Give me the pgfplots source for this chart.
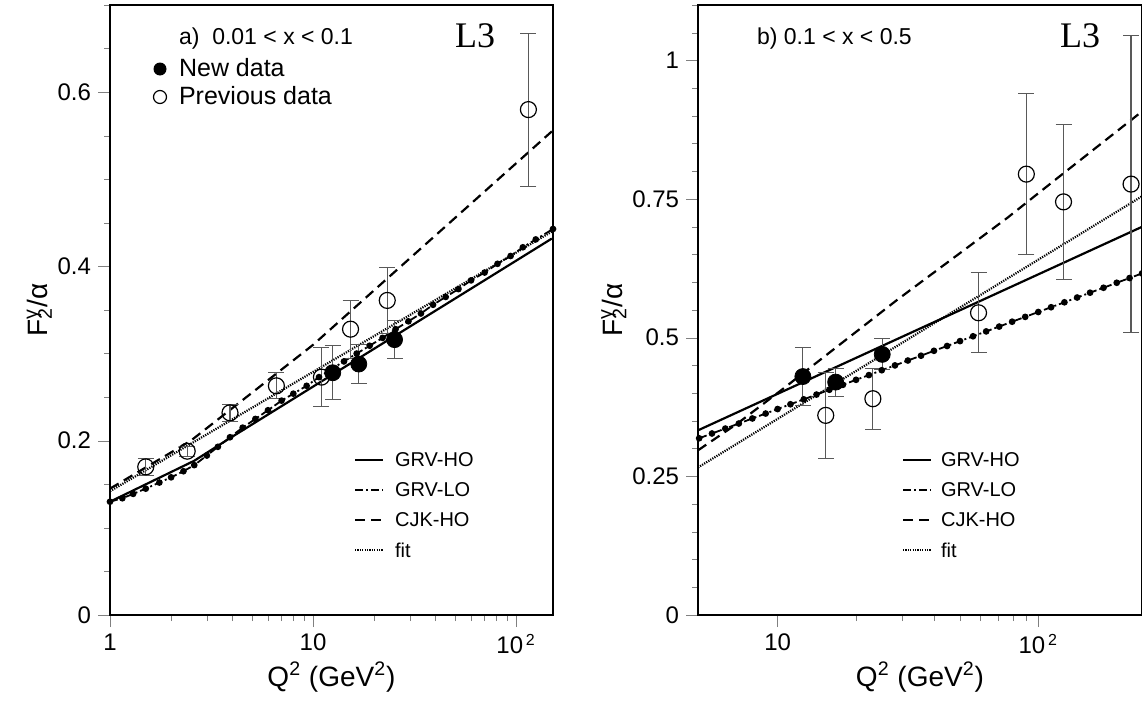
\documentclass[border=0pt]{standalone}
\usepackage{pgfplots}
\pgfplotsset{compat=1.18}
\usepackage{fontspec}
\setmainfont{Liberation Sans}
\newfontfamily\serif{Liberation Serif}
\tikzset{
  ho/.style={black, line width=1.1pt},
  lo/.style={black, line width=0.9pt, dash pattern=on 4pt off 1.5pt on 1pt off 1.5pt},
  cjk/.style={black, line width=1.1pt, dash pattern=on 5pt off 3pt},
  fit/.style={black, line width=1.1pt, dash pattern=on 0.6pt off 0.6pt},
}
\newcommand{\Fga}{F\rlap{\textsuperscript{γ}}\textsubscript{2}/α}
\pgfplotsset{
  every axis/.append style={
    tick align=outside, tick pos=left, axis line style={line width=1.1pt},
    major tick length=6pt, minor tick length=3pt,
    ticklabel style={font=\fontsize{12}{14}\selectfont},
    label style={font=\fontsize{14}{16}\selectfont}},
  ebar/.style={error bars/y dir=both, error bars/y explicit,
    error bars/error bar style={gray!70!black,line width=0.6pt},
    error bars/error mark options={rotate=90,mark size=4pt,gray!70!black}},
}
\begin{document}
\begin{tikzpicture}
\useasboundingbox (0,0) rectangle (571pt,354.5pt);
\begin{axis}[xmode=log, scale only axis, anchor=south west, at={(55pt,47pt)}, width=221.5pt, height=305pt,
  xmin=1, xmax=152, ymin=0, ymax=0.7,
  xtick={1,10,100}, xticklabels={1,10,10\textsuperscript{\,2}},
  ytick={0,0.2,0.4,0.6}, yticklabels={0,0.2,0.4,0.6},
  minor ytick={0.05,0.1,...,0.7},
  xlabel={Q\textsuperscript{2} (GeV\textsuperscript{2})}, ylabel={\Fga},
  ylabel style={yshift=-4pt}, xlabel style={yshift=3pt}]
\addplot[cjk, no marks] coordinates {(1,0.145)(2.5,0.2)(10,0.31)(150,0.555)};
\addplot[fit, no marks] coordinates {(1,0.142)(150,0.44)};
\addplot[lo, mark=*, mark size=1.2pt, mark options={solid}] coordinates {(1,0.13)(1.15,0.134)(1.3,0.139)(1.5,0.145)(1.75,0.152)(2,0.158)(2.3,0.165)(2.6,0.172)(3,0.183)(3.4,0.193)(3.9,0.204)(4.5,0.215)(5.2,0.225)(6,0.235)(7,0.246)(8,0.254)(9.3,0.263)(10.7,0.273)(12.3,0.282)(14.2,0.291)(16.4,0.3)(19,0.309)(22,0.318)(25.5,0.328)(29.5,0.337)(34,0.346)(39,0.356)(45,0.365)(52,0.374)(60,0.384)(70,0.393)(81,0.403)(94,0.412)(108,0.422)(125,0.431)(152,0.443)};
\addplot[ho, no marks] coordinates {(1,0.13)(2.6,0.177)(3.9,0.203)(150,0.432)};
\addplot[ebar, only marks, mark=o, mark size=4pt, mark options={fill=white,line width=0.6pt}] coordinates {(1.5,0.17)+-(0,0.01)(2.4,0.188)+-(0,0.006)(3.9,0.232)+-(0,0.01)(6.6,0.263)+-(0,0.015)(11,0.273)+-(0,0.034)(15.3,0.328)+-(0,0.033)(23.2,0.361)+-(0,0.038)(115,0.58)+-(0,0.088)};
\addplot[ebar, only marks, mark=*, mark size=4pt, black] coordinates {(12.5,0.278)+-(0,0.031)(16.8,0.288)+-(0,0.022)(25.2,0.316)+-(0,0.022)};
\end{axis}
\begin{axis}[xmode=log, scale only axis, anchor=south west, at={(349pt,47pt)}, width=222pt, height=305pt,
  xmin=4.95, xmax=250, ymin=0, ymax=1.1,
  xtick={10,100}, xticklabels={10,10\textsuperscript{\,2}},
  ytick={0,0.25,0.5,0.75,1}, yticklabels={0,0.25,0.5,0.75,1},
  minor ytick={0.05,0.1,...,1.1},
  xlabel={Q\textsuperscript{2} (GeV\textsuperscript{2})}, ylabel={\Fga},
  ylabel style={yshift=-4pt}, xlabel style={yshift=3pt}]
\addplot[cjk, no marks] coordinates {(4.95,0.297)(7,0.345)(10.3,0.405)(28.7,0.568)(76,0.716)(120,0.79)(250,0.908)};
\addplot[fit, no marks] coordinates {(4.95,0.266)(250,0.755)};
\addplot[lo, mark=*, mark size=1.2pt, mark options={solid}] coordinates {(5,0.3187)(5.6,0.3273)(6.3,0.3362)(7.1,0.3453)(8,0.3544)(9,0.3633)(10,0.3714)(11.2,0.3800)(12.6,0.3889)(14.1,0.3975)(15.8,0.4062)(17.8,0.4151)(20,0.4241)(22.4,0.4326)(25.1,0.4414)(28.2,0.4501)(31.6,0.4589)(35.5,0.4676)(39.8,0.4764)(44.7,0.4851)(50.1,0.4939)(56.2,0.5026)(63.1,0.5114)(70.8,0.5201)(79.4,0.5289)(89.1,0.5376)(100,0.5464)(112,0.5550)(126,0.5639)(141,0.5725)(158,0.5812)(178,0.5901)(200,0.5991)(224,0.6076)(250,0.6160)};
\addplot[ho, no marks] coordinates {(4.95,0.333)(250,0.70)};
\addplot[ebar, only marks, mark=o, mark size=4pt, mark options={fill=white,line width=0.6pt}] coordinates {(15.3,0.36)+-(0,0.077)(23.2,0.39)+-(0,0.055)(59,0.545)+-(0,0.072)(90,0.795)+-(0,0.145)(125,0.745)+-(0,0.14)(227,0.777)+-(0,0.268)};
\addplot[ebar, only marks, mark=*, mark size=4pt, black] coordinates {(12.5,0.43)+-(0,0.052)(16.7,0.42)+-(0,0.025)(25.2,0.47)+-(0,0.028)};
\end{axis}
\begin{scope}[x=0.5pt,y=0.5pt]
\node[anchor=west,font=\fontsize{11.5}{13}\selectfont] at (172,670) {a)\ \ 0.01 < x < 0.1};
\fill (160,640) circle (3.25pt);
\node[anchor=west,font=\fontsize{12.5}{14}\selectfont] at (172,641) {New data};
\draw[line width=0.6pt] (160,612) circle (3.25pt);
\node[anchor=west,font=\fontsize{12.5}{14}\selectfont] at (172,613) {Previous data};
\node[font=\serif\fontsize{18}{20}\selectfont] at (475,673) {L3};
\node[anchor=west,font=\fontsize{11.5}{13}\selectfont] at (750,670) {b) 0.1 < x < 0.5};
\node[font=\serif\fontsize{18}{20}\selectfont] at (1080,673) {L3};
\foreach \xo in {355,903}{
  \draw[ho] (\xo,249)--(\xo+28,249);
  \draw[lo] (\xo,219)--(\xo+28,219);
  \draw[cjk] (\xo,189)--(\xo+28,189);
  \draw[fit] (\xo,159)--(\xo+28,159);
}
\foreach \xo in {388,934}{
  \node[anchor=west,font=\fontsize{10}{11}\selectfont] at (\xo,249) {GRV-HO};
  \node[anchor=west,font=\fontsize{10}{11}\selectfont] at (\xo,219) {GRV-LO};
  \node[anchor=west,font=\fontsize{10}{11}\selectfont] at (\xo,189) {CJK-HO};
  \node[anchor=west,font=\fontsize{10}{11}\selectfont] at (\xo,159) {fit};
}
\end{scope}
\end{tikzpicture}
\end{document}
